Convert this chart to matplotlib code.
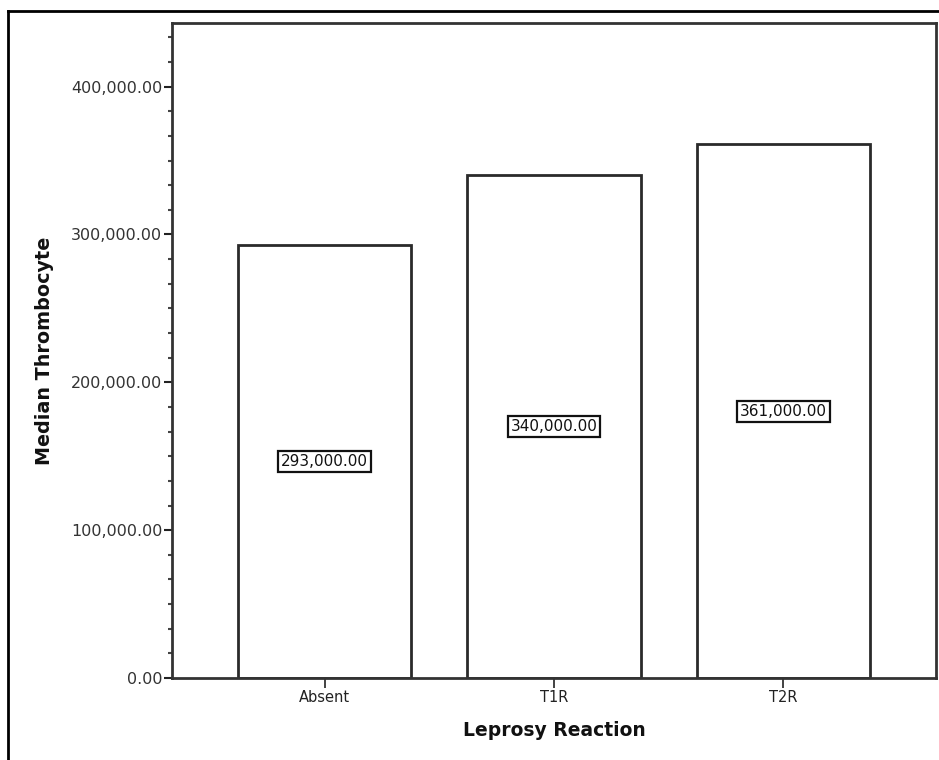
import matplotlib
matplotlib.use("Agg")
import matplotlib.pyplot as plt
from matplotlib.ticker import FuncFormatter, MultipleLocator
from matplotlib.lines import Line2D

categories = ["Absent", "T1R", "T2R"]
medians = [293000, 340000, 361000]
value_labels = ["293,000.00", "340,000.00", "361,000.00"]
y_ticks = [0, 100000, 200000, 300000, 400000]

W, H = 939, 760
fig = plt.figure(figsize=(W / 100, H / 100), dpi=100)
plt.rcParams['font.family'] = ['DejaVu Sans']

L, R, T, B = 172, 936, 23, 678
ax = fig.add_axes([L / W, 1 - B / H, (R - L) / W, (B - T) / H])

x = list(range(len(categories)))
ax.bar(x, medians, width=0.754, color="white", edgecolor="#2a2a2a", linewidth=2.0, zorder=2)

for xi, v, lab in zip(x, medians, value_labels):
    ax.text(xi, v / 2, lab, ha="center", va="center", fontsize=11, color="#111111", zorder=4,
            bbox=dict(boxstyle="square,pad=0.2", facecolor="white", edgecolor="#111111", linewidth=1.6))

ax.set_xlim(-0.6645, 2.6645)
ax.set_ylim(0, 443000)
ax.set_yticks(y_ticks)
ax.yaxis.set_major_formatter(FuncFormatter(lambda v, p: f"{v:,.2f}"))
ax.yaxis.set_minor_locator(MultipleLocator(100000 / 6))
ax.set_xticks(x)
ax.set_xticklabels(categories)

for s in ax.spines.values():
    s.set_color("#333333")
    s.set_linewidth(2.0)

ax.tick_params(axis="y", which="major", length=6, width=1.5, color="#222222", labelsize=11.5, labelcolor="#333333", pad=1)
ax.tick_params(axis="y", which="minor", length=3, width=1.5, color="#444444")
ax.tick_params(axis="x", which="major", length=7, width=1.2, color="#222222", labelsize=10.5, labelcolor="#222222", pad=2)

ax.set_ylabel("Median Thrombocyte", fontsize=13.8, fontweight="bold", color="#111111", labelpad=12)
ax.set_xlabel("Leprosy Reaction", fontsize=13.5, fontweight="bold", color="#111111", labelpad=11)

# outer frame (left and top edges visible)
fig.add_artist(Line2D([8 / W, 8 / W], [0, 1 - 11 / H], transform=fig.transFigure, color="black", linewidth=2))
fig.add_artist(Line2D([8 / W, 1], [1 - 11 / H, 1 - 11 / H], transform=fig.transFigure, color="black", linewidth=2))

fig.savefig("out.png", dpi=100, facecolor="white")
